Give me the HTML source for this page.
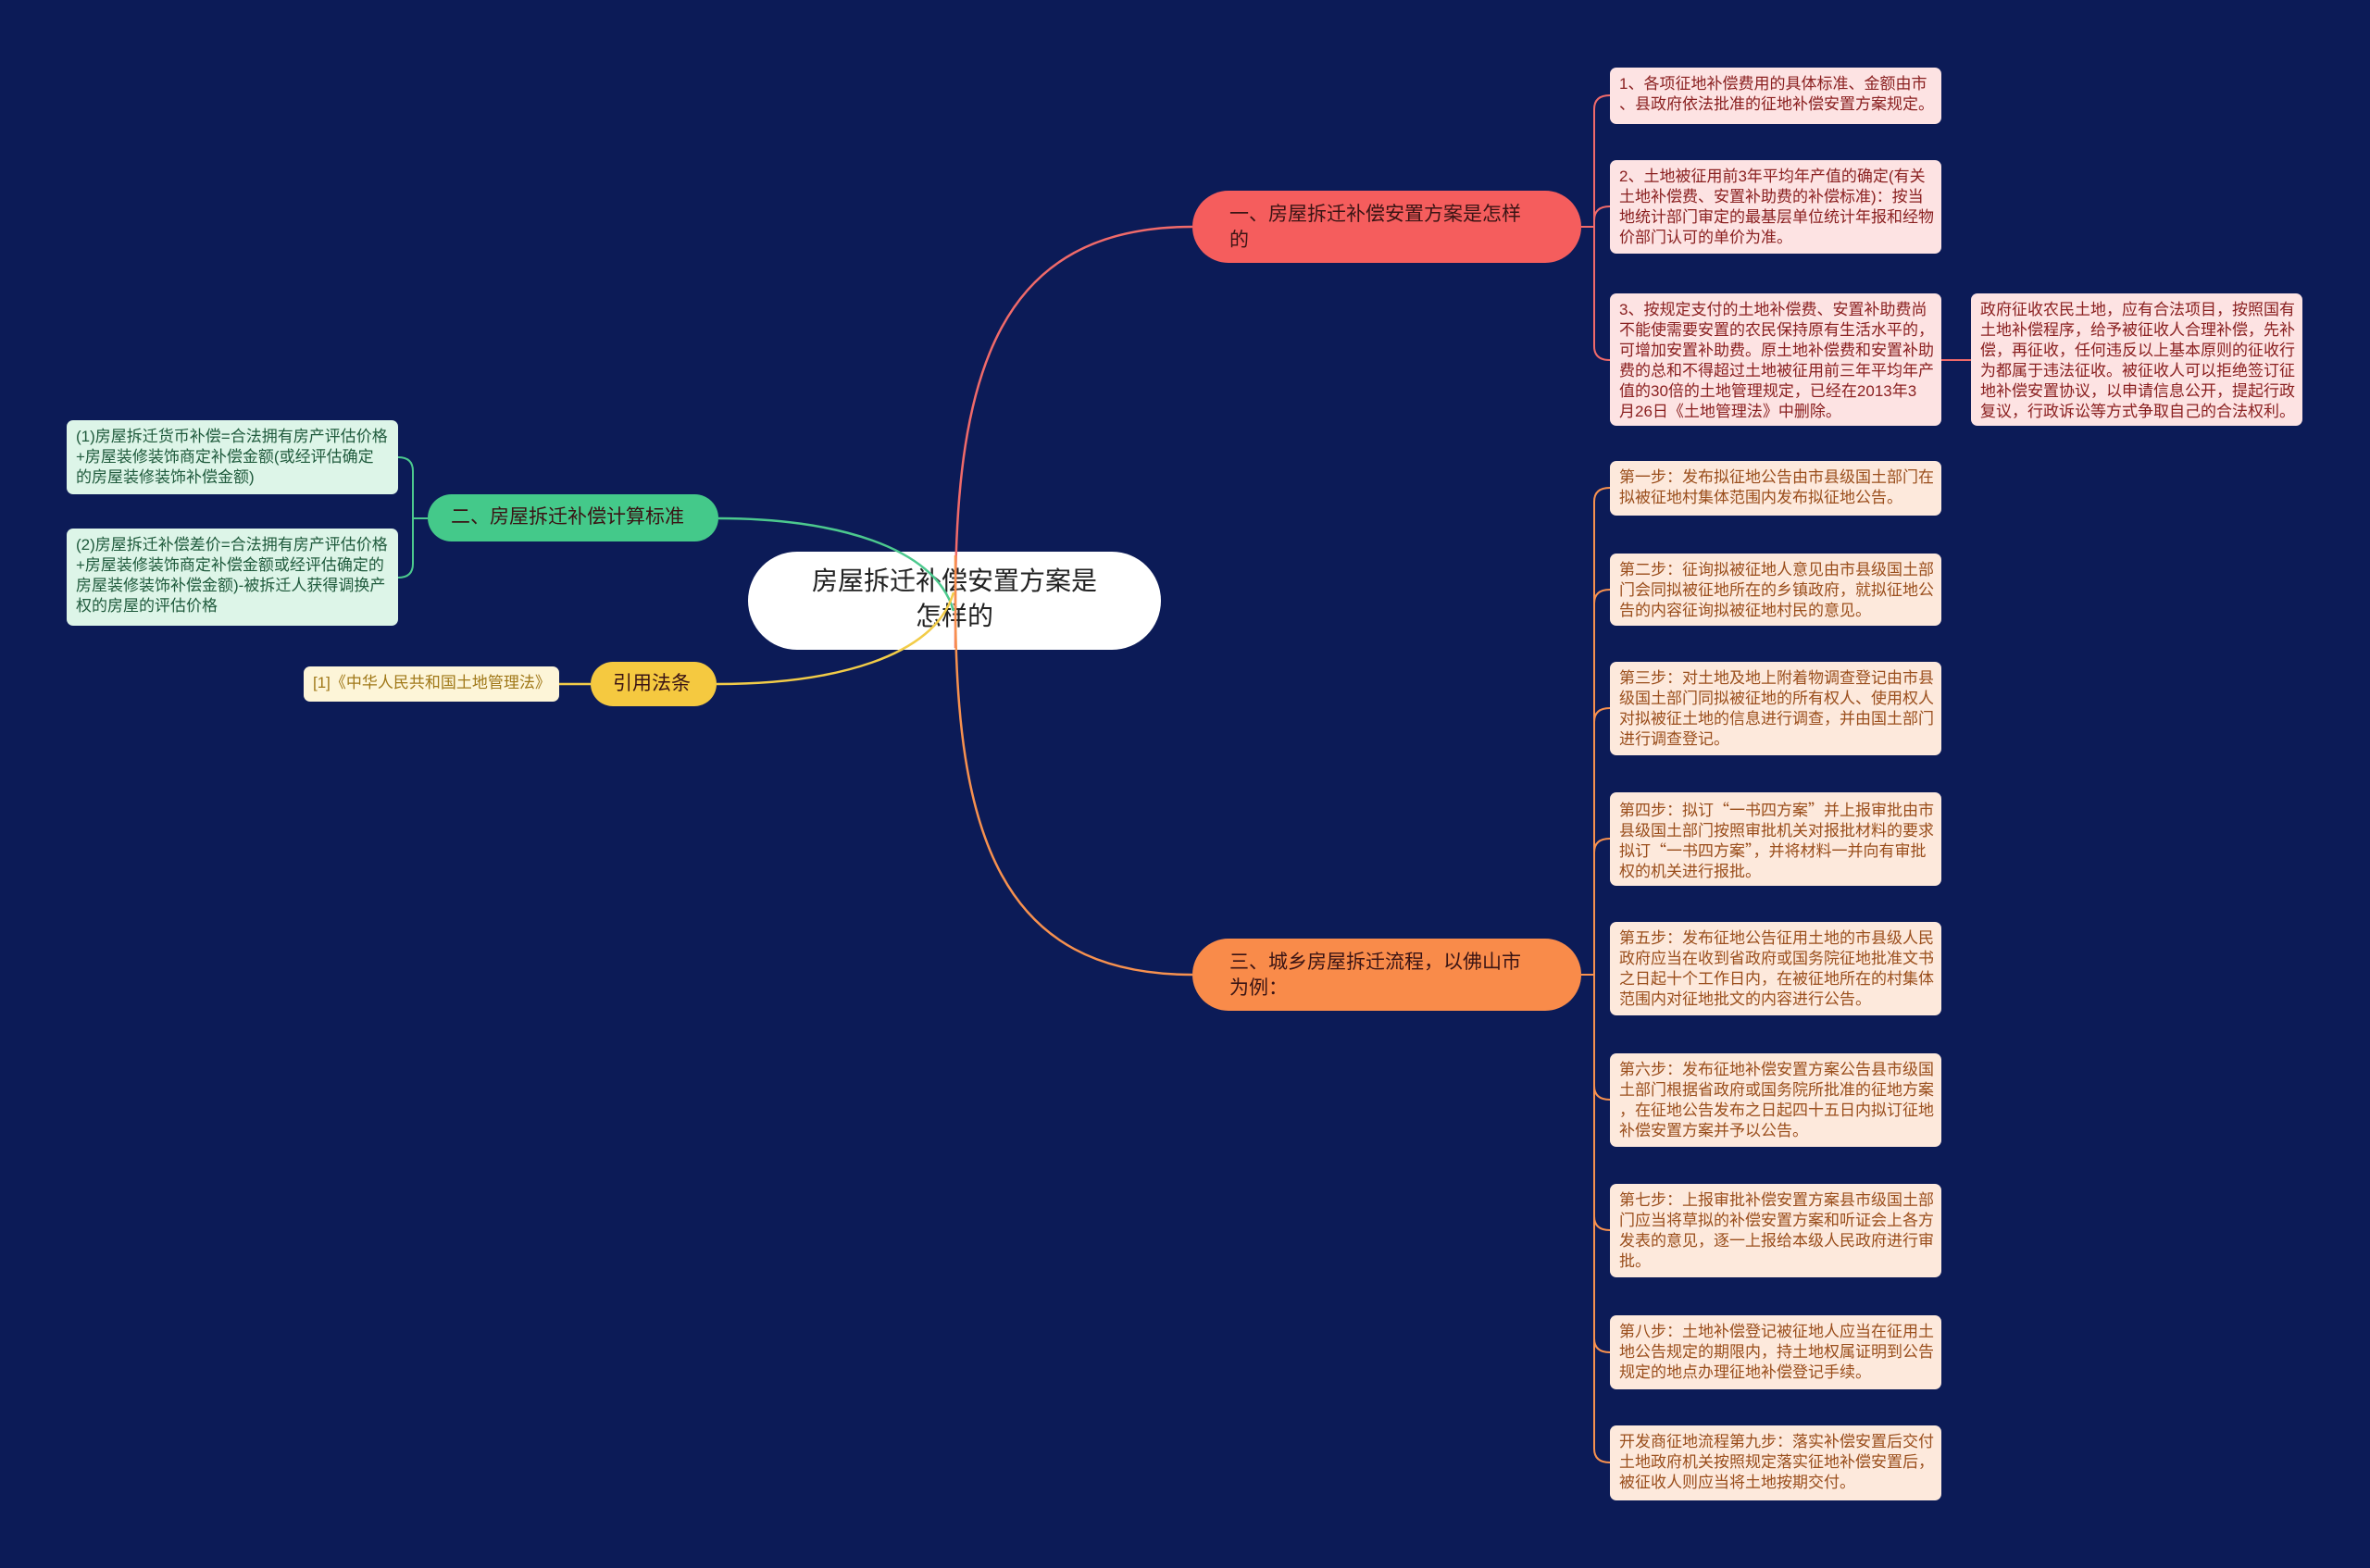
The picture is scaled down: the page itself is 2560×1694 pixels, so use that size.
<!DOCTYPE html>
<html><head><meta charset="utf-8"><style>
*{margin:0;padding:0;box-sizing:border-box}
body{width:2560px;height:1694px;background:#0c1b57;position:relative;overflow:hidden;font-family:"Liberation Sans","Noto Sans CJK SC",sans-serif}
.n{position:absolute}
.box{position:absolute;border-radius:7px;font-size:17px;line-height:22px;padding:7px 10px 0 10px;white-space:nowrap}
.r{background:#fde3e3;color:#8a2020;left:1739px;width:358px}
.o{background:#fde9dc;color:#9a4e1c;left:1739px;width:358px}
.g{background:#ddf5e8;color:#1f5a3c;left:72px;width:358px}
.br{position:absolute;border-radius:40px;font-size:21px;line-height:28px;color:#3a1414;white-space:nowrap}
.q{font-family:"Noto Sans CJK SC",sans-serif}
</style></head><body>
<div class="n" style="left:808px;top:596px;width:446px;height:106px;background:#fff;border-radius:53px;font-size:28px;line-height:38px;color:#222;text-align:center;padding-top:13px">房屋拆迁补偿安置方案是<br>怎样的</div>

<svg class="n" style="left:0;top:0" width="2560" height="1694">
<g fill="none" stroke-width="2.5">
<path d="M1032 700 V650 C1032 400 1080 245 1288 245" stroke="#f06a6a"/>
<path d="M1032 600 V650 C1032 900 1080 1053 1288 1053" stroke="#f7914f"/>
<path d="M1030 660 C1010 590 900 560 776 560" stroke="#4cc98e"/>
<path d="M1030 640 C1010 710 900 739 774 739" stroke="#f2cc48"/>
</g>
<g fill="none" stroke="#f06a6a" stroke-width="2">
<path d="M1708 245 H1722"/>
<path d="M1722 245 V118 Q1722 103 1739 103"/>
<path d="M1722 245 V238 Q1722 223 1739 223"/>
<path d="M1722 245 V374 Q1722 389 1739 389"/>
<path d="M2097 389 H2129"/>
</g>
<g fill="none" stroke="#f7914f" stroke-width="2">
<path d="M1708 1053 H1722"/>
<path d="M1722 1053 V542 Q1722 527 1739 527"/>
<path d="M1722 1053 V652 Q1722 637 1739 637"/>
<path d="M1722 1053 V780 Q1722 765 1739 765"/>
<path d="M1722 1053 V921 Q1722 906 1739 906"/>
<path d="M1722 1053 V1173 Q1722 1188 1739 1188"/>
<path d="M1722 1053 V1314 Q1722 1329 1739 1329"/>
<path d="M1722 1053 V1446 Q1722 1461 1739 1461"/>
<path d="M1722 1053 V1565 Q1722 1580 1739 1580"/>
</g>
<g fill="none" stroke="#4cc98e" stroke-width="2">
<path d="M462 560 H446"/>
<path d="M446 560 V509 Q446 494 430 494"/>
<path d="M446 560 V609 Q446 624 430 624"/>
</g>
<path d="M604 739 H638" stroke="#f2cc48" stroke-width="2.5"/>
</svg>

<div class="br" style="left:1288px;top:206px;width:420px;height:78px;background:#f55d5d;padding:12px 0 0 40px">一、房屋拆迁补偿安置方案是怎样<br>的</div>
<div class="br" style="left:1288px;top:1014px;width:420px;height:78px;background:#f98b4a;padding:12px 0 0 40px">三、城乡房屋拆迁流程，以佛山市<br>为例：</div>
<div class="br" style="left:462px;top:534px;width:314px;height:51px;background:#44c98a;padding:11px 0 0 25px">二、房屋拆迁补偿计算标准</div>
<div class="br" style="left:638px;top:715px;width:136px;height:48px;background:#f5c940;padding:10px 0 0 24px">引用法条</div>

<div class="box" style="left:328px;top:720px;width:276px;height:38px;background:#fdf5d8;color:#a07818;font-size:17px;padding-top:7px">[1]《中华人民共和国土地管理法》</div>

<div class="box g" style="top:454px;height:80px">(1)房屋拆迁货币补偿=合法拥有房产评估价格<br>+房屋装修装饰商定补偿金额(或经评估确定<br>的房屋装修装饰补偿金额)</div>
<div class="box g" style="top:571px;height:105px">(2)房屋拆迁补偿差价=合法拥有房产评估价格<br>+房屋装修装饰商定补偿金额或经评估确定的<br>房屋装修装饰补偿金额)-被拆迁人获得调换产<br>权的房屋的评估价格</div>

<div class="box r" style="top:73px;height:61px">1、各项征地补偿费用的具体标准、金额由市<br>、县政府依法批准的征地补偿安置方案规定。</div>
<div class="box r" style="top:173px;height:101px">2、土地被征用前3年平均年产值的确定(有关<br>土地补偿费、安置补助费的补偿标准)：按当<br>地统计部门审定的最基层单位统计年报和经物<br>价部门认可的单价为准。</div>
<div class="box r" style="top:317px;height:143px">3、按规定支付的土地补偿费、安置补助费尚<br>不能使需要安置的农民保持原有生活水平的，<br>可增加安置补助费。原土地补偿费和安置补助<br>费的总和不得超过土地被征用前三年平均年产<br>值的30倍的土地管理规定，已经在2013年3<br>月26日《土地管理法》中删除。</div>
<div class="box r" style="left:2129px;top:317px;height:143px">政府征收农民土地，应有合法项目，按照国有<br>土地补偿程序，给予被征收人合理补偿，先补<br>偿，再征收，任何违反以上基本原则的征收行<br>为都属于违法征收。被征收人可以拒绝签订征<br>地补偿安置协议，以申请信息公开，提起行政<br>复议，行政诉讼等方式争取自己的合法权利。</div>

<div class="box o" style="top:498px;height:59px">第一步：发布拟征地公告由市县级国土部门在<br>拟被征地村集体范围内发布拟征地公告。</div>
<div class="box o" style="top:598px;height:78px">第二步：征询拟被征地人意见由市县级国土部<br>门会同拟被征地所在的乡镇政府，就拟征地公<br>告的内容征询拟被征地村民的意见。</div>
<div class="box o" style="top:715px;height:101px">第三步：对土地及地上附着物调查登记由市县<br>级国土部门同拟被征地的所有权人、使用权人<br>对拟被征土地的信息进行调查，并由国土部门<br>进行调查登记。</div>
<div class="box o q" style="top:856px;height:101px">第四步：拟订“一书四方案”并上报审批由市<br>县级国土部门按照审批机关对报批材料的要求<br>拟订“一书四方案”，并将材料一并向有审批<br>权的机关进行报批。</div>
<div class="box o" style="top:996px;height:101px">第五步：发布征地公告征用土地的市县级人民<br>政府应当在收到省政府或国务院征地批准文书<br>之日起十个工作日内，在被征地所在的村集体<br>范围内对征地批文的内容进行公告。</div>
<div class="box o" style="top:1138px;height:101px">第六步：发布征地补偿安置方案公告县市级国<br>土部门根据省政府或国务院所批准的征地方案<br>，在征地公告发布之日起四十五日内拟订征地<br>补偿安置方案并予以公告。</div>
<div class="box o" style="top:1279px;height:101px">第七步：上报审批补偿安置方案县市级国土部<br>门应当将草拟的补偿安置方案和听证会上各方<br>发表的意见，逐一上报给本级人民政府进行审<br>批。</div>
<div class="box o" style="top:1421px;height:80px">第八步：土地补偿登记被征地人应当在征用土<br>地公告规定的期限内，持土地权属证明到公告<br>规定的地点办理征地补偿登记手续。</div>
<div class="box o" style="top:1540px;height:81px">开发商征地流程第九步：落实补偿安置后交付<br>土地政府机关按照规定落实征地补偿安置后，<br>被征收人则应当将土地按期交付。</div>
</body></html>
